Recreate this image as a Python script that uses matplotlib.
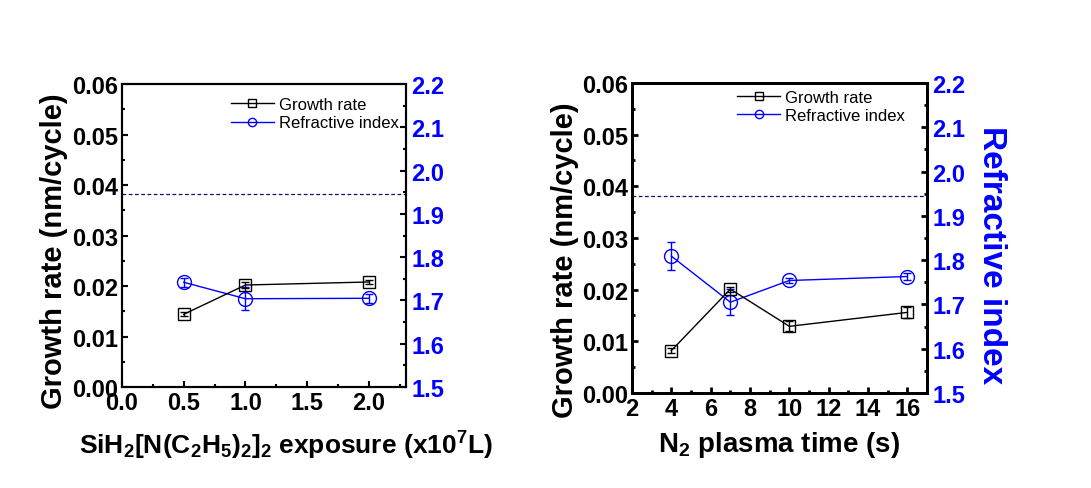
import matplotlib
matplotlib.use("Agg")
import matplotlib.pyplot as plt
from matplotlib.ticker import MultipleLocator
from matplotlib.lines import Line2D

plt.rcParams['font.family'] = ['Liberation Sans', 'DejaVu Sans']
plt.rcParams['mathtext.fontset'] = 'custom'
plt.rcParams['mathtext.rm'] = 'Liberation Sans:bold'
plt.rcParams['mathtext.it'] = 'Liberation Sans:bold'
plt.rcParams['mathtext.bf'] = 'Liberation Sans:bold'

# ---- data: left panel (precursor exposure) ----
exposure = [0.5, 1.0, 2.0]
gr_exposure = [0.0144, 0.0202, 0.0208]
gr_exposure_err = [0.0004, 0.0005, 0.0003]
ri_exposure = [1.742, 1.704, 1.705]
ri_exposure_err = [0.010, 0.027, 0.010]

# ---- data: right panel (N2 plasma time) ----
plasma_time = [4, 7, 10, 16]
gr_plasma = [0.0082, 0.0201, 0.0129, 0.0156]
gr_plasma_err = [0.0005, 0.0005, 0.0010, 0.0010]
ri_plasma = [1.809, 1.705, 1.754, 1.763]
ri_plasma_err = [0.031, 0.029, 0.005, 0.008]

ref_line = 0.0382

BLUE = '#0000ff'
fig = plt.figure(figsize=(10.91, 4.89), dpi=100)

def panel(rect, x, gr, gre, ri, rie, xlim, xmaj, xmin, xlabel, xl_size, xl_coords,
          yl_coords, spine_w, show_right_label, leg_anchor):
    ax = fig.add_axes(rect)
    ax2 = ax.twinx()
    ax.set_zorder(ax2.get_zorder() + 1)
    ax.patch.set_visible(False)
    ax.axhline(ref_line, color='#101070', ls=(0, (3, 2)), lw=0.9, zorder=1)
    ax.errorbar(x, gr, yerr=gre, color='black', lw=1, marker='s', ms=9,
                mfc='none', mec='black', mew=1, capsize=3, elinewidth=1)
    ax2.errorbar(x, ri, yerr=rie, color=BLUE, lw=1, marker='o', ms=10,
                 mfc='none', mec=BLUE, mew=1, capsize=3, elinewidth=1)
    ax.set_xlim(*xlim)
    ax.set_ylim(0, 0.06)
    ax2.set_ylim(1.5, 2.2)
    ax.xaxis.set_major_locator(MultipleLocator(xmaj))
    ax.xaxis.set_minor_locator(MultipleLocator(xmin))
    ax.yaxis.set_major_locator(MultipleLocator(0.01))
    ax.yaxis.set_minor_locator(MultipleLocator(0.005))
    ax2.yaxis.set_major_locator(MultipleLocator(0.1))
    ax2.yaxis.set_minor_locator(MultipleLocator(0.05))
    for a in (ax, ax2):
        for s in a.spines.values():
            s.set_linewidth(spine_w)
        a.tick_params(which='major', direction='in', length=4, width=spine_w)
        a.tick_params(which='minor', direction='in', length=2.5, width=spine_w)
    ax.tick_params(axis='both', which='major', labelsize=17, pad=3)
    ax.set_xticks(ax.get_xticks())
    ax.set_xticklabels([f'{v:g}' if xmaj >= 1 else f'{v:.1f}' for v in ax.get_xticks()])
    ax.set_yticks(ax.get_yticks())
    ax.set_yticklabels([f'{v:.2f}' for v in ax.get_yticks()])
    ax.set_xlim(*xlim)
    ax.set_ylim(0, 0.06)
    for t in ax.get_xticklabels() + ax.get_yticklabels():
        t.set_fontweight('bold')
    ax2.tick_params(axis='y', which='major', labelsize=17, labelcolor=BLUE, pad=4)
    ax2.set_yticks(ax2.get_yticks())
    ax2.set_yticklabels([f'{v:.1f}' for v in ax2.get_yticks()])
    ax2.set_ylim(1.5, 2.2)
    for t in ax2.get_yticklabels():
        t.set_fontweight('bold')
        t.set_color(BLUE)
    ax.set_xlabel(xlabel, fontsize=xl_size, fontweight='bold')
    ax.xaxis.set_label_coords(*xl_coords)
    ax.set_ylabel('Growth rate (nm/cycle)', fontsize=21, fontweight='bold')
    ax.yaxis.set_label_coords(*yl_coords)
    if show_right_label:
        ax2.set_ylabel('Refractive index', fontsize=24, fontweight='bold',
                       color=BLUE, rotation=270, va='center')
        ax2.yaxis.set_label_coords(1.22, 0.448)
    h1 = Line2D([], [], color='black', lw=1, marker='s', ms=6, mfc='none',
                mec='black', mew=1)
    h2 = Line2D([], [], color=BLUE, lw=1, marker='o', ms=6, mfc='none',
                mec=BLUE, mew=1)
    ax.legend([h1, h2], ['Growth rate', 'Refractive index'],
              loc='upper right', bbox_to_anchor=leg_anchor, frameon=False,
              fontsize=12, handlelength=2.6, handletextpad=0.3,
              labelspacing=0.2, borderaxespad=0.2)
    return ax, ax2

panel([0.1118, 0.2065, 0.2603, 0.6196], exposure, gr_exposure, gr_exposure_err,
      ri_exposure, ri_exposure_err, (0, 2.3), 0.5, 0.25,
      r'SiH$_2$[N(C$_2$H$_5$)$_2$]$_2$ exposure (x10$^7$L)', 19, (0.577, -0.138),
      (-0.19, 0.45), 1.5, False, (1.01, 0.99))

panel([0.5793, 0.1943, 0.2704, 0.634], plasma_time, gr_plasma, gr_plasma_err,
      ri_plasma, ri_plasma_err, (2, 17), 2, 1,
      r'N$_2$ plasma time (s)', 20, (0.5, -0.116),
      (-0.18, 0.43), 2.0, True, (0.96, 1.01))

fig.savefig('out.png', dpi=100)
